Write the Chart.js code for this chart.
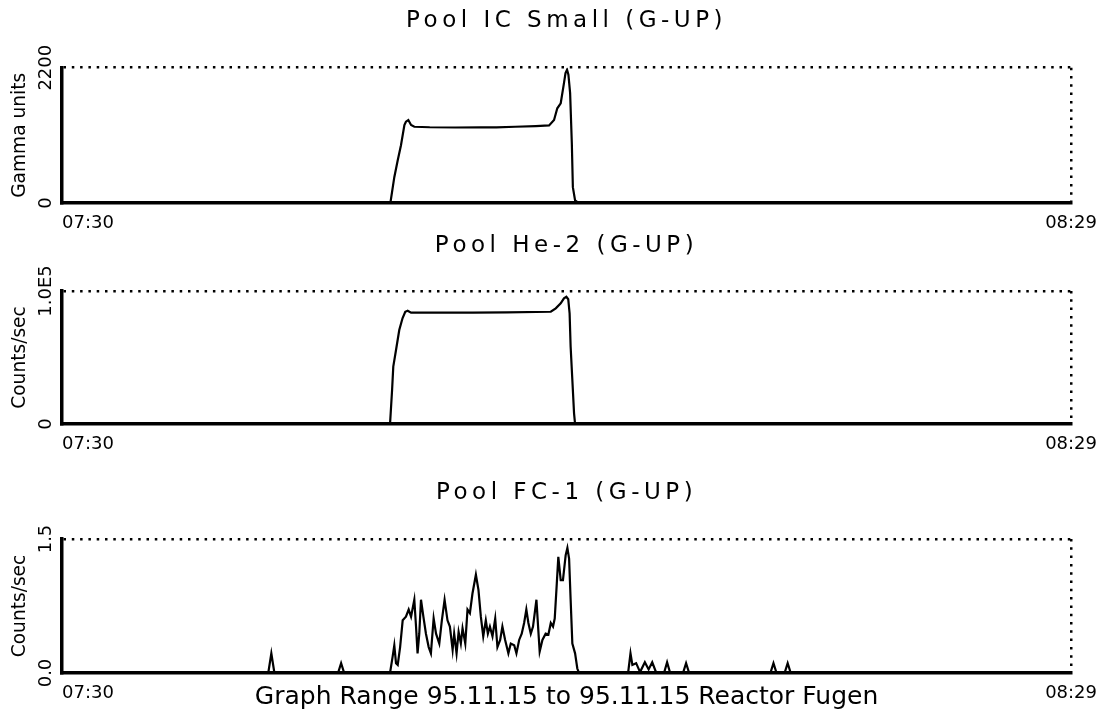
<!DOCTYPE html>
<html>
<head>
<meta charset="utf-8">
<script src="https://cdn.jsdelivr.net/npm/chart.js@4.4.0/dist/chart.umd.min.js"></script>
<style>
  html, body { margin: 0; padding: 0; background: #fff; }
  body { width: 1107px; height: 724px; position: relative; overflow: hidden; }
  canvas { position: absolute; left: 0; }
</style>
</head>
<body>
<canvas id="ic" width="1107" height="233" style="top:0px"></canvas>
<canvas id="he" width="1107" height="234" style="top:220px"></canvas>
<canvas id="fc" width="1107" height="263" style="top:450px"></canvas>
<script>
// Time axis: minutes after 07:30
const xTickValues = [0, 59];
const xTickLabels = ['07:30', '08:29'];

// Pool IC Small (gamma units)
const icTimes = [0, 19.2, 19.43, 19.63, 19.82, 20.02, 20.11, 20.25, 20.41, 20.6,
  21.5, 23.0, 24.5, 25.4, 26.5, 27.7, 28.48, 28.77, 28.96, 29.16,
  29.35, 29.44, 29.53, 29.61, 29.71, 29.81, 29.87, 30.0, 30.2, 59];
const icValues = [0, 0, 420, 695, 940, 1268, 1322, 1349, 1268, 1240,
  1232, 1228, 1230, 1230, 1240, 1251, 1262, 1349, 1540, 1622,
  1950, 2113, 2167, 2086, 1786, 968, 258, 41, 0, 0];
const icTicks = [0, 2200];
const icTickLabels = ['0', '2200'];

// Pool He-2 (counts/sec)
const heTimes = [0, 19.18, 19.3, 19.37, 19.53, 19.72, 19.91, 20.07, 20.21, 20.41,
  22, 24, 26, 28.58, 28.87, 29.16, 29.35, 29.49, 29.6, 29.68,
  29.74, 29.84, 29.94, 30.0, 59];
const heValues = [0, 0, 25600, 43100, 55600, 70700, 79500, 84400, 85200, 83700,
  83700, 83800, 84000, 84400, 87000, 90700, 94500, 95700, 93800, 83200,
  58100, 33100, 8000, 0, 0];
const heTicks = [0, 100000];
const heTickLabels = ['0', '1.0E5'];

// Pool FC-1 (counts/sec)
const fcTimes = [0, 12.06, 12.24, 12.42, 16.14, 16.32, 16.5, 19.18, 19.33, 19.43,
  19.53, 19.63, 19.77, 19.92, 20.11, 20.27, 20.41, 20.6, 20.7, 20.79,
  20.89, 20.99, 21.13, 21.28, 21.44, 21.57, 21.73, 21.87, 22.06, 22.21,
  22.37, 22.54, 22.68, 22.84, 22.93, 23.07, 23.19, 23.32, 23.42, 23.58,
  23.71, 23.85, 24.0, 24.2, 24.35, 24.49, 24.63, 24.78, 24.9, 25.02,
  25.17, 25.33, 25.46, 25.62, 25.75, 25.91, 26.1, 26.24, 26.44, 26.57,
  26.73, 26.88, 27.02, 27.15, 27.27, 27.41, 27.54, 27.74, 27.85, 27.93,
  28.09, 28.28, 28.44, 28.58, 28.71, 28.81, 28.93, 29.02, 29.16, 29.29,
  29.45, 29.55, 29.65, 29.74, 29.84, 30.0, 30.13, 30.23, 33.1, 33.24,
  33.35, 33.57, 33.8, 34.08, 34.3, 34.51, 34.75, 35.2, 35.38, 35.56,
  36.31, 36.49, 36.67, 41.42, 41.6, 41.78, 42.25, 42.43, 42.61, 59];
const fcValues = [0, 0, 0.22, 0, 0, 0.11, 0, 0, 0.18, 0.31,
  0.11, 0.09, 0.29, 0.59, 0.63, 0.71, 0.63, 0.82, 0.52, 0.22,
  0.44, 0.82, 0.63, 0.44, 0.29, 0.22, 0.61, 0.44, 0.33, 0.59,
  0.82, 0.59, 0.52, 0.26, 0.44, 0.22, 0.46, 0.33, 0.50, 0.33,
  0.71, 0.67, 0.89, 1.10, 0.93, 0.63, 0.41, 0.59, 0.44, 0.52,
  0.41, 0.61, 0.29, 0.37, 0.52, 0.37, 0.22, 0.33, 0.31, 0.22,
  0.37, 0.44, 0.56, 0.71, 0.56, 0.44, 0.52, 0.82, 0.48, 0.24,
  0.37, 0.44, 0.43, 0.56, 0.52, 0.61, 1.00, 1.30, 1.04, 1.04,
  1.32, 1.40, 1.28, 0.82, 0.33, 0.22, 0.05, 0, 0, 0.22,
  0.09, 0.11, 0.01, 0.12, 0.04, 0.12, 0, 0, 0.12, 0,
  0, 0.11, 0, 0, 0.11, 0, 0, 0.11, 0, 0];
const fcTicks = [0, 1.5];
const fcTickLabels = ['0.0', '1.5'];

Chart.defaults.font.family = "'DejaVu Sans', sans-serif";
Chart.defaults.color = '#000';

// Plotter-style wide spacing for panel titles; everything drawn after the
// datasets (ticks, axis titles, frame) uses normal spacing.
const titleSpacing = {
  id: 'titleSpacing',
  beforeDraw(chart) { chart.ctx.letterSpacing = '4.5px'; },
  beforeDatasetsDraw(chart) { chart.ctx.letterSpacing = '0px'; }
};

// The far tick of each axis carries the dotted frame line (top and right edges).
const farLineOnly = c => (c.index === 1 ? '#000' : 'rgba(0,0,0,0)');
const dotGrid = { display: true, drawTicks: false, color: farLineOnly, lineWidth: 2.5, z: 1 };
const solidFrame = { color: '#000', width: 3.5, dash: [2.5, 5.8], z: 1 };

function makePanel(id, cfg) {
  const points = cfg.times.map((t, i) => ({ x: t, y: cfg.values[i] }));
  return new Chart(document.getElementById(id), {
    type: 'line',
    data: {
      datasets: [{
        data: points,
        borderColor: '#000',
        borderWidth: 2.2,
        pointRadius: 0,
        tension: 0,
        fill: false
      }]
    },
    options: {
      responsive: false,
      animation: false,
      events: [],
      layout: { padding: { left: 0, right: 34, top: 0, bottom: 0 } },
      plugins: {
        legend: { display: false },
        tooltip: { enabled: false },
        title: {
          display: true,
          text: cfg.title,
          fullSize: false,
          color: '#000',
          font: { size: 23, weight: 'normal' },
          padding: cfg.titlePad
        }
      },
      scales: {
        x: {
          type: 'linear',
          position: 'bottom',
          min: 0,
          max: 59,
          afterBuildTicks: s => { s.ticks = xTickValues.map(v => ({ value: v })); },
          afterFit: s => { s.height = cfg.xHeight; s.paddingLeft = 0; s.paddingRight = 0; },
          grid: dotGrid,
          border: solidFrame,
          ticks: {
            z: 1, align: 'start', padding: 10, minRotation: 0, maxRotation: 0,
            color: '#000', font: { size: 18 },
            callback: (v, i) => (i === 0 ? xTickLabels[0] : '')
          },
          title: cfg.caption ? {
            display: true,
            text: cfg.caption,
            color: '#000',
            font: { size: 25 },
            padding: { top: 0, bottom: 1 }
          } : { display: false }
        },
        // end-of-range time label, centred on its tick at the baseline
        xEnd: {
          type: 'linear',
          position: { y: 0 },
          min: 0,
          max: 59,
          afterBuildTicks: s => { s.ticks = [{ value: xTickValues[1] }]; },
          grid: { display: false, drawTicks: false, z: 1 },
          border: { display: false },
          ticks: {
            z: 1, align: 'center', padding: 10, minRotation: 0, maxRotation: 0,
            color: '#000', font: { size: 18 },
            callback: () => xTickLabels[1]
          }
        },
        y: {
          type: 'linear',
          position: 'left',
          min: 0,
          max: cfg.ticks[cfg.ticks.length - 1],
          afterBuildTicks: s => { s.ticks = cfg.ticks.map(v => ({ value: v })); },
          afterFit: s => { s.width = 62; },
          grid: dotGrid,
          border: solidFrame,
          ticks: {
            z: 1, minRotation: 90, maxRotation: 90, crossAlign: 'center',
            padding: cfg.yTickPad, color: '#000', font: { size: 18 },
            callback: (v, i) => cfg.tickLabels[i]
          },
          title: {
            display: true,
            text: cfg.yTitle,
            color: '#000',
            font: { size: 18.6 },
            padding: { top: 9.5, bottom: 0 }
          }
        }
      }
    },
    plugins: [titleSpacing]
  });
}

makePanel('ic', {
  title: 'Pool IC Small (G-UP)',
  titlePad: { top: 7.7, bottom: 32.4 },
  times: icTimes, values: icValues,
  ticks: icTicks, tickLabels: icTickLabels, yTickPad: -6.9,
  yTitle: 'Gamma units',
  xHeight: 30
});

makePanel('he', {
  title: 'Pool He-2 (G-UP)',
  titlePad: { top: 12.2, bottom: 31.2 },
  times: heTimes, values: heValues,
  ticks: heTicks, tickLabels: heTickLabels, yTickPad: -9.7,
  yTitle: 'Counts/sec',
  xHeight: 30
});

makePanel('fc', {
  title: 'Pool FC-1 (G-UP)',
  titlePad: { top: 29.2, bottom: 32.2 },
  times: fcTimes, values: fcValues,
  ticks: fcTicks, tickLabels: fcTickLabels, yTickPad: 1.7,
  yTitle: 'Counts/sec',
  xHeight: 40,
  caption: 'Graph Range 95.11.15 to 95.11.15 Reactor Fugen'
});
</script>
</body>
</html>
